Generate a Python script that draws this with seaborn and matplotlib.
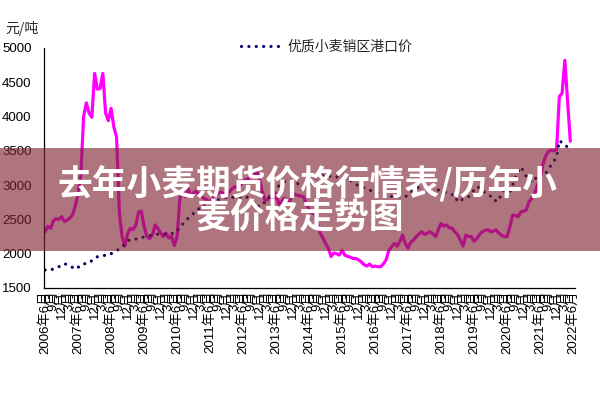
import matplotlib
matplotlib.use("Agg")
import matplotlib.pyplot as plt
from matplotlib.patches import Rectangle
from matplotlib.lines import Line2D
import seaborn as sns
import numpy as np

# ---- data ----
start_year, start_month = 2006, 6
n_ticks = 193  # 2006年6月 .. 2022年6月 (monthly)

futures_price = [
    2320,2400,2370,2480,2510,2500,2540,2470,2490,2520,
    2570,2700,2880,3150,4000,4200,4050,3990,4630,4400,
    4410,4630,4050,3940,4120,3850,3700,2600,2250,2110,
    2290,2370,2350,2420,2610,2620,2400,2250,2220,2270,
    2420,2370,2300,2250,2300,2230,2250,2120,2250,2800,
    2930,2830,2950,2840,2890,2910,2860,2830,2800,2780,
    2760,2800,2850,2880,2900,2870,2850,2900,2950,2980,
    2960,3000,3050,3080,3100,3130,3150,3190,3080,2900,
    2780,2790,2850,2780,2880,2720,2760,2810,2730,2760,
    2880,2860,2850,2840,2830,2720,2650,2600,2580,2450,
    2300,2230,2150,2080,1960,2010,2000,1980,2050,1980,
    1960,1950,1930,1930,1910,1880,1840,1820,1850,1810,
    1820,1810,1810,1850,1910,2050,2100,2150,2110,2180,
    2270,2150,2080,2170,2200,2250,2290,2320,2280,2300,
    2320,2290,2250,2350,2440,2400,2420,2380,2370,2320,
    2280,2200,2110,2270,2250,2250,2180,2220,2280,2320,
    2340,2350,2320,2330,2350,2300,2270,2250,2250,2390,
    2560,2560,2540,2610,2620,2640,2760,2810,2880,3000,
    3080,3300,3420,3490,3510,3500,3520,4290,4340,4820,
    4240,3640,
]

port_price = [
    1762,1760,1760,1780,1800,1810,1840,1855,1840,1820,
    1800,1775,1800,1840,1850,1860,1865,1900,1935,1955,
    1970,1975,1975,1978,2000,2025,2045,2070,2100,2140,
    2180,2210,2214,2214,2215,2230,2248,2255,2265,2273,
    2280,2285,2287,2287,2287,2290,2295,2297,2330,2385,
    2430,2477,2515,2550,2590,2623,2660,2700,2720,2735,
    2745,2758,2770,2785,2805,2815,2822,2822,2822,2822,
    2825,2830,2838,2841,2800,2770,2730,2700,2685,2710,
    2758,2800,2856,2900,2950,2990,3027,3050,3075,3080,
    3060,3040,3020,3000,2990,2977,3000,3050,3090,3120,
    3130,3140,3148,3140,3124,3110,3120,3124,3110,3095,
    3085,3070,3040,3010,2990,2977,2960,2940,2929,2910,
    2900,2890,2880,2860,2840,2831,
    2835,2830,2831,2831,2831,2831,
    2860,2900,2930,2950,2970,2985,2995,3002,3002,2980,
    2950,2929,2915,2905,2890,2875,2860,2856,2758,2770,
    2800,2820,2831,2880,2930,2977,2960,2920,2890,2860,
    2840,2831,2758,2800,2860,2929,2831,2900,3000,3100,
    3200,3268,3200,3120,3080,3050,3050,3172,3172,3172,
    3172,3230,3293,3350,3414,3648,3620,3595,3550,3512,
]

y_ticks = [1500, 2000, 2500, 3000, 3500, 4000, 4500, 5000]
legend_label = "优质小麦销区港口价"
unit_label = "元/吨"
banner_line1 = "去年小麦期货价格行情表/历年小"
banner_line2 = "麦价格走势图"

month_labels = []
for i in range(n_ticks):
    m = (start_month - 1 + i) % 12 + 1
    y = start_year + (start_month - 1 + i) // 12
    if i % 3 == 0:
        month_labels.append(f"{y}年{m}月" if m == 6 else f"{m}月")
    else:
        month_labels.append("")

# ---- style ----
sns.set_style("white")
plt.rcParams['font.family'] = ['Liberation Sans', 'Noto Sans CJK SC', 'DejaVu Sans']

fig = plt.figure(figsize=(6, 4), dpi=100)
fig.patch.set_facecolor("white")
ax = fig.add_axes([44/600, 1-288/400, (575-44)/600, 240/400])
ax.set_facecolor("white")

x_f = np.arange(len(futures_price))
x_p = np.arange(len(port_price))
sns.lineplot(x=x_f, y=futures_price, color="#ff00ff", lw=2.3, ax=ax,
             solid_joinstyle="round")
sns.lineplot(x=x_p, y=port_price, color="#000066", lw=2.3, ax=ax,
             linestyle=(0, (0.01, 2.3)), dash_capstyle="round")

ax.set_ylim(1500, 5000)
ax.set_xlim(-0.4, 192.7)
ax.set_yticks(y_ticks)
ax.set_yticklabels([str(v) for v in y_ticks], fontsize=9.5)
ax.set_xticks(range(n_ticks))
ax.set_xticklabels(month_labels, rotation=90, fontsize=9.5,
                   va="top", ha="center")
ax.tick_params(axis="y", direction="in", length=3, width=0.8, pad=9, colors="black")
ax.tick_params(axis="x", direction="in", length=3, width=0.5, pad=2, colors="black")
ax.set_xlabel("")
ax.set_ylabel("")
for s in ["top", "right"]:
    ax.spines[s].set_visible(False)
for s in ["left", "bottom"]:
    ax.spines[s].set_color("black")
    ax.spines[s].set_linewidth(0.9)

handle = Line2D([0], [0], color="#000066", lw=2.3, linestyle=(0, (0.01, 2.3)),
                dash_capstyle="round")
fig.legend([handle], [legend_label], loc="center",
           bbox_to_anchor=(327/600, 1-47/400), frameon=False,
           prop={"family": ["Noto Sans CJK SC", "DejaVu Sans"], "size": 10},
           handlelength=2.95, handletextpad=0.4)

fig.text(5/600, 1-28/400, unit_label, fontsize=10, va="center", ha="left",
         family=["Noto Sans CJK SC", "DejaVu Sans"])

# banner overlay
banner = Rectangle((0, 1-251/400), 1, 103/400, transform=fig.transFigure,
                   facecolor="#7f2030", alpha=0.62, edgecolor="none", zorder=5)
fig.patches.append(banner)
fig.text(307/600, 1-183/400, banner_line1, fontsize=25, color="white",
         fontweight="bold", ha="center", va="center", zorder=6,
         family=["Noto Sans CJK SC", "DejaVu Sans"])
fig.text(300/600, 1-218/400, banner_line2, fontsize=25, color="white",
         fontweight="bold", ha="center", va="center", zorder=6,
         family=["Noto Sans CJK SC", "DejaVu Sans"])

fig.savefig("out.png", dpi=100, facecolor="white")
